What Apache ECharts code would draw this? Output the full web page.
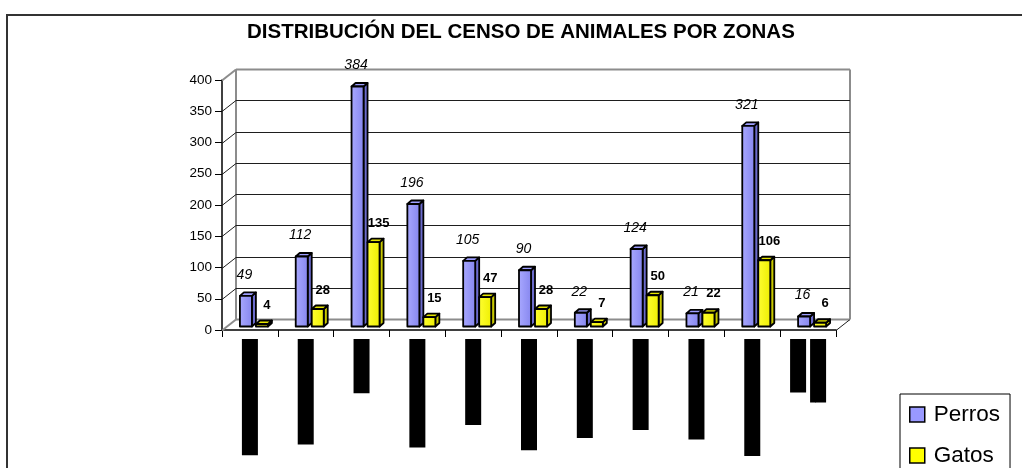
<!DOCTYPE html>
<html>
<head>
<meta charset="utf-8">
<script src="https://cdn.jsdelivr.net/npm/echarts@6/dist/echarts.min.js"></script>
<style>
  html, body { margin: 0; padding: 0; background: #fff; }
  #chart { width: 1022px; height: 468px; }
</style>
</head>
<body>
<div id="chart"></div>
<script>
// Census data by zone
const zones = [
  'Barrio de San Pablo', 'Barrio del Carmen', 'El Centro', 'Barrio de San Blas',
  'Zona Industrial', 'Urbanización Norte', 'Nuevo Ensanche', 'Casco Histórico',
  'Zona Residencial', 'Ciudad Universitaria', 'El Puerto\ny la Marina'
];
const perros = [49, 112, 384, 196, 105, 90, 22, 124, 21, 321, 16];
const gatos  = [4, 28, 135, 15, 47, 28, 7, 50, 22, 106, 6];
const yTicks = [0, 50, 100, 150, 200, 250, 300, 350, 400];

// Pseudo-3D geometry (pixels)
const FONT = 'Liberation Sans, Arial, sans-serif';
const WALL_DEPTH = [14, -11];   // offset of the back wall from the front axes
const BAR_SHIFT = [6, -3.5];    // bars sit half-way into the floor
const BAR_W = 12;               // front face width
const BAR_DEPTH = [4, -3.5];    // side/top face offset

const chart = echarts.init(document.getElementById('chart'), null, { renderer: 'canvas' });

function line(x1, y1, x2, y2, stroke, lineWidth) {
  return { type: 'line', shape: { x1, y1, x2, y2 }, style: { stroke, lineWidth } };
}

// Walls, floor and the gridlines on the back wall
function renderFrame(params, api) {
  const cs = params.coordSys;
  const v = api.value(1);
  const y = Math.round(api.coord([0, v])[1]) + 0.5;
  const L = cs.x, R = cs.x + cs.width;
  const dx = WALL_DEPTH[0], dy = WALL_DEPTH[1];
  const edge = v === yTicks[0] || v === yTicks[yTicks.length - 1];
  const col = edge ? '#8c8c8c' : '#1e1e1e';
  const lw = edge ? 2 : 1;
  const children = [
    line(L, y, L + dx, y + dy, col, lw),
    line(L + dx, y + dy, R + dx, y + dy, col, lw)
  ];
  if (v === yTicks[0]) {
    const yTop = Math.round(api.coord([0, yTicks[yTicks.length - 1]])[1]) + 0.5;
    children.push(line(R, y, R + dx, y + dy, '#1e1e1e', 1));
    children.push(line(L + dx, y + dy, L + dx, yTop + dy, '#8c8c8c', 2));
    children.push(line(R + dx, y + dy, R + dx, yTop + dy, '#8c8c8c', 2));
  }
  return { type: 'group', children };
}

// 3D column with its value label
function barRenderer(side, c, labelFont, labelOffset) {
  return function (params, api) {
    const idx = api.value(0), val = api.value(1);
    const top = api.coord([idx, val]);
    const base = api.coord([idx, 0]);
    const pc = top[0] + BAR_SHIFT[0];
    const w = BAR_W, dx = BAR_DEPTH[0], dy = BAR_DEPTH[1];
    const x0 = side < 0 ? pc - w - dx : pc;
    const yT = top[1] + BAR_SHIFT[1];
    const yB = base[1] + BAR_SHIFT[1];
    const stroke = { stroke: '#000', lineWidth: 1.8, lineJoin: 'round' };
    return {
      type: 'group',
      children: [
        { type: 'polygon', shape: { points: [[x0 + w, yT], [x0 + w + dx, yT + dy], [x0 + w + dx, yB + dy], [x0 + w, yB]] },
          style: Object.assign({ fill: c.side }, stroke) },
        { type: 'polygon', shape: { points: [[x0, yT], [x0 + dx, yT + dy], [x0 + w + dx, yT + dy], [x0 + w, yT]] },
          style: Object.assign({ fill: c.top }, stroke) },
        { type: 'rect', shape: { x: x0, y: yT, width: w, height: yB - yT },
          style: Object.assign({ fill: { type: 'linear', x: 0, y: 0, x2: 1, y2: 0,
            colorStops: [{ offset: 0, color: c.light }, { offset: 1, color: c.dark }] } }, stroke) },
        { type: 'text', x: x0 + w / 2 + labelOffset[0], y: yT + labelOffset[1],
          style: { text: String(val), font: labelFont, fill: '#000', align: 'center', verticalAlign: 'middle' } }
      ]
    };
  };
}

const option = {
  animation: false,
  backgroundColor: '#fff',
  title: {
    text: 'DISTRIBUCIÓN DEL CENSO DE ANIMALES POR ZONAS',
    left: 247, top: 22, padding: 0,
    textStyle: { fontFamily: FONT, fontSize: 20.5, fontWeight: 'bold', color: '#000' }
  },
  graphic: [{
    type: 'rect', silent: true, z: -1,
    shape: { x: 7, y: 15, width: 1040, height: 480 },
    style: { fill: 'none', stroke: '#333', lineWidth: 2 }
  }],
  legend: {
    data: ['Perros', 'Gatos'],
    orient: 'vertical', left: 900, top: 394, height: 200,
    padding: [9, 10, 14, 9], itemGap: 18,
    itemWidth: 15, itemHeight: 15, icon: 'rect',
    borderColor: '#000', borderWidth: 1,
    itemStyle: { borderColor: '#000', borderWidth: 1.5 },
    textStyle: { fontFamily: FONT, fontSize: 22.5, color: '#000', padding: [0, 0, 0, 4] }
  },
  grid: { left: 222, top: 80, width: 614, height: 250, containLabel: false },
  xAxis: {
    type: 'category', data: zones, boundaryGap: true,
    axisLine: { show: true, lineStyle: { color: '#000', width: 1.5 } },
    axisTick: { show: true, length: 7, lineStyle: { color: '#000' } },
    axisLabel: {
      interval: 0, rotate: 90, margin: 9,
      formatter: v => v.split('\n').map(s => '{z|' + s + '}').join('\n{g| }\n'),
      rich: {
        z: { fontFamily: FONT, fontSize: 13, lineHeight: 16, padding: [2, 0, 1, 0],
             color: '#000', backgroundColor: '#000' },
        g: { fontSize: 4, lineHeight: 4 }
      }
    },
    splitLine: { show: false }
  },
  yAxis: {
    type: 'value', min: yTicks[0], max: yTicks[yTicks.length - 1], interval: 50,
    axisLine: { show: true, lineStyle: { color: '#000', width: 1.5 } },
    axisTick: { show: true, length: 7, lineStyle: { color: '#000' } },
    axisLabel: { fontFamily: FONT, fontSize: 13.5, color: '#000', margin: 10 },
    splitLine: { show: false }
  },
  series: [
    {
      type: 'custom', name: 'frame', z: 1, silent: true,
      data: yTicks.map(v => [0, v]),
      renderItem: renderFrame
    },
    {
      type: 'custom', name: 'Perros', z: 3,
      itemStyle: { color: '#9999FF' },
      data: perros.map((v, i) => [i, v]),
      encode: { x: 0, y: 1 },
      renderItem: barRenderer(-1,
        { light: '#A9A9FF', dark: '#8585EE', side: '#6B6BCC', top: '#9E9EFF' },
        'italic 14px ' + FONT, [-1.5, -21])
    },
    {
      type: 'custom', name: 'Gatos', z: 3,
      itemStyle: { color: '#FFFF00' },
      data: gatos.map((v, i) => [i, v]),
      encode: { x: 0, y: 1 },
      renderItem: barRenderer(1,
        { light: '#FFFF33', dark: '#EEEE00', side: '#C9C900', top: '#E5E500' },
        'bold 13px ' + FONT, [5, -19])
    }
  ]
};

chart.setOption(option);
</script>
</body>
</html>
